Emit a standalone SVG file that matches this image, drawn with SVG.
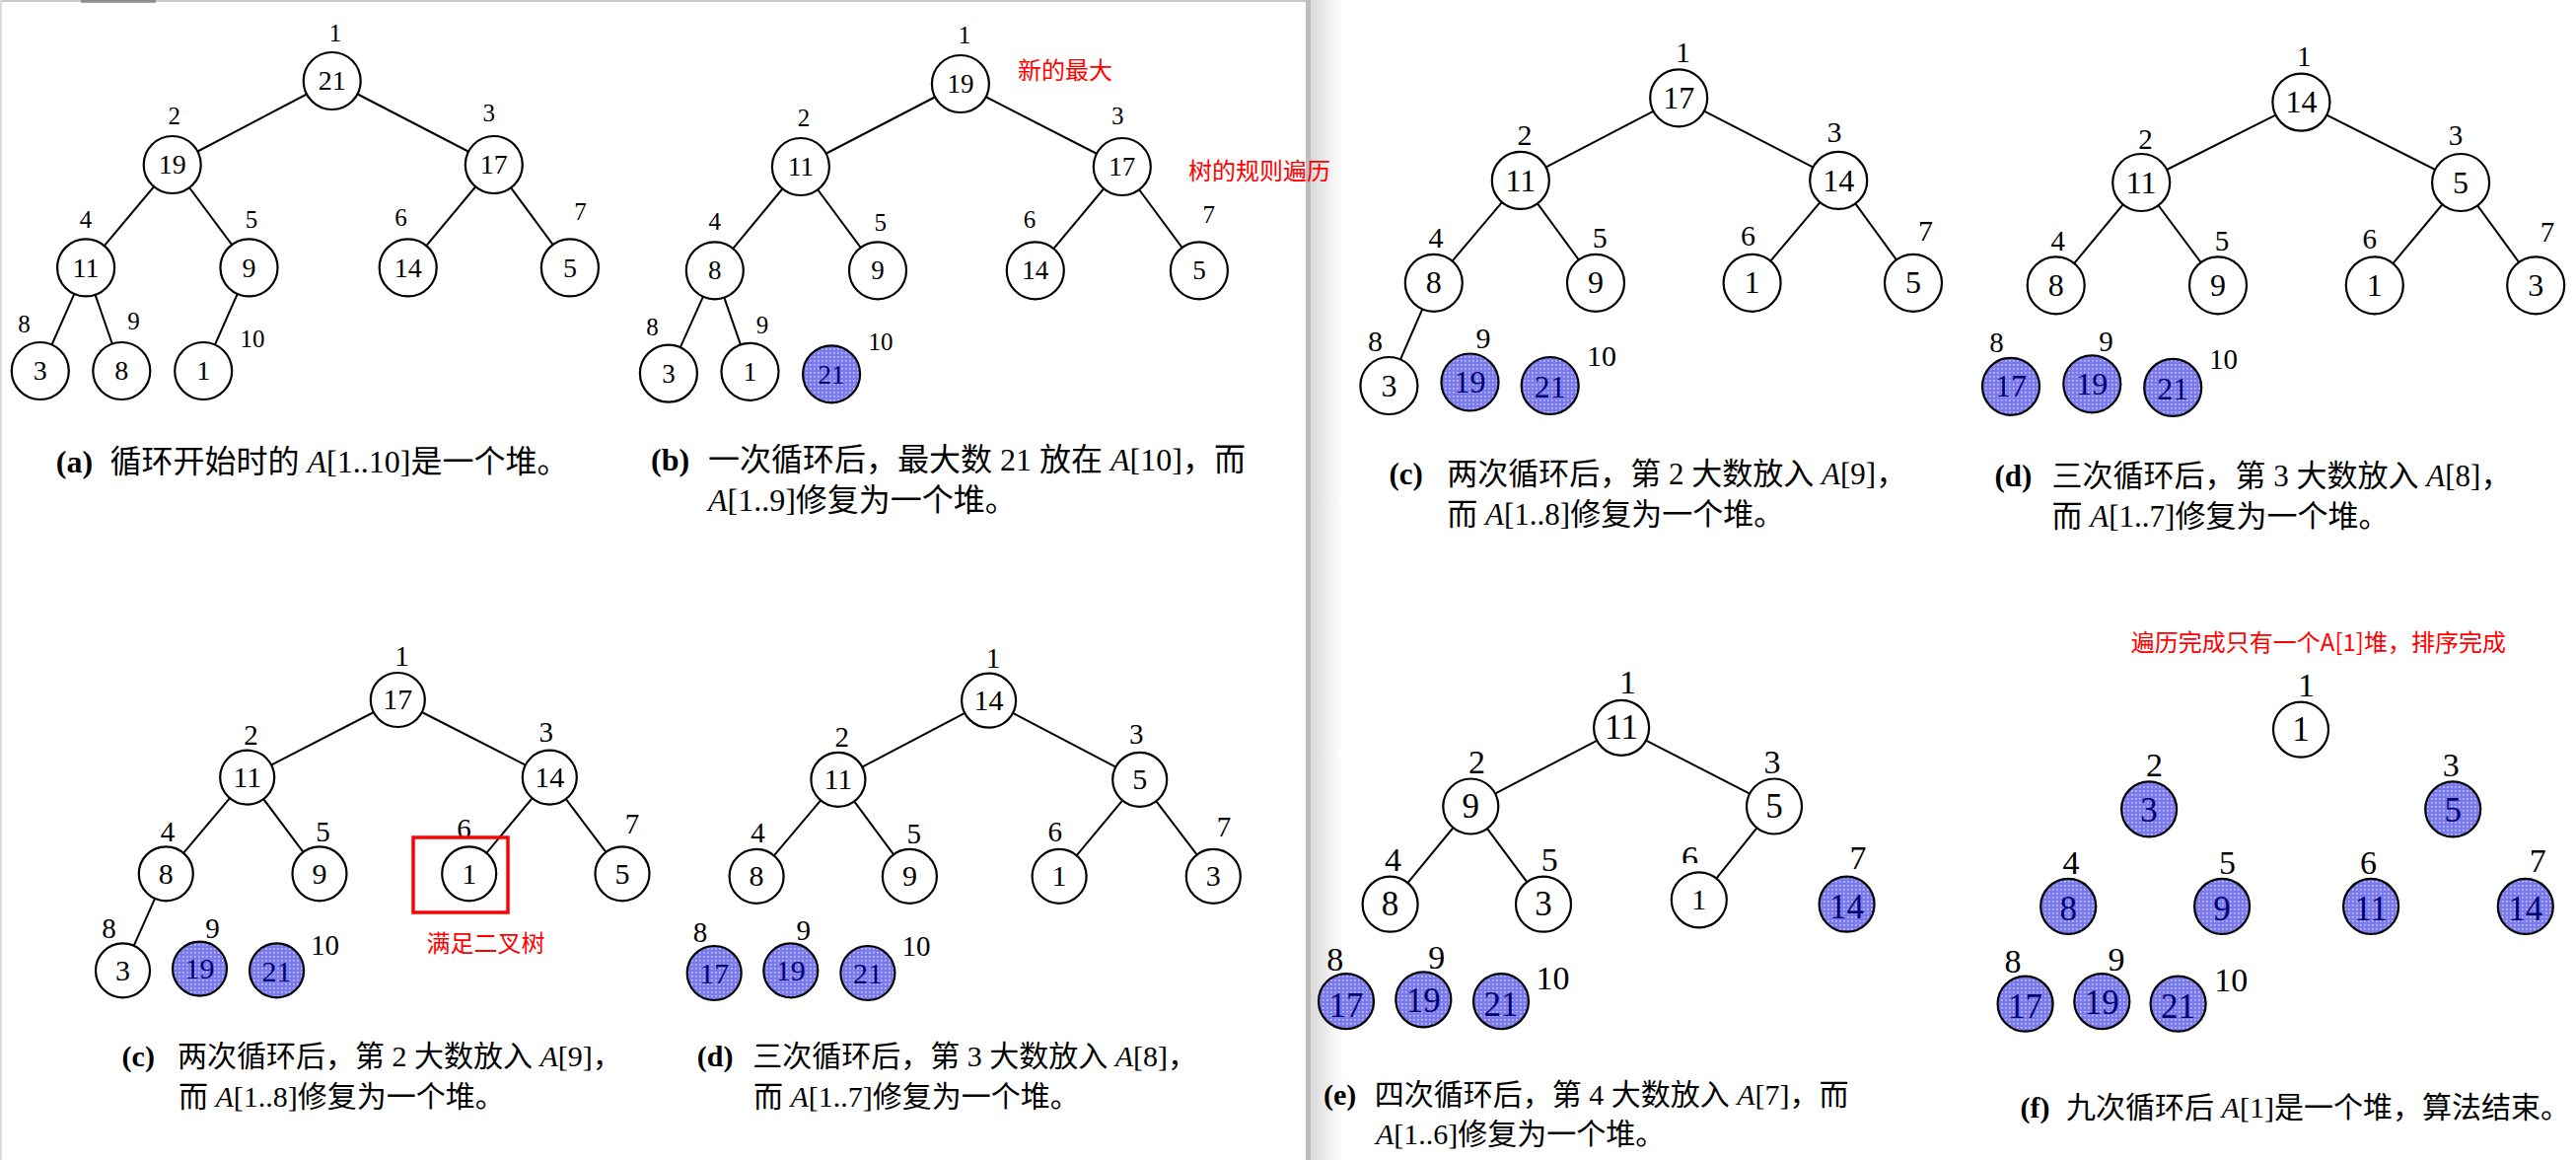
<svg xmlns="http://www.w3.org/2000/svg" width="2612" height="1176" viewBox="0 0 2612 1176">
<style>
.e{stroke:#000;stroke-width:2;fill:none}
.n{fill:#fff;stroke:#000;stroke-width:2.2}
.b{fill:url(#dots);stroke:#000;stroke-width:2.2}
.t{font-family:"Liberation Serif","Times New Roman",serif;text-anchor:middle;fill:#000}
.tb{fill:#000070}
.cap{font-family:"Liberation Serif","Noto Sans CJK SC",serif;fill:#000}
.red{font-family:"Noto Sans CJK SC",sans-serif;fill:#ff0000;font-size:24px}
.f28{font-size:28px}.f27{font-size:27px}.f25{font-size:25px}.f32{font-size:32px}.f30{font-size:30px}.f29{font-size:29px}.f35{font-size:35px}.f34{font-size:34px}
.c32{font-size:32px}.c31{font-size:31px}.c30{font-size:30px}
</style>
<defs>
<pattern id="dots" width="4" height="4" patternUnits="userSpaceOnUse"><rect width="4" height="4" fill="#7a7aee"/><rect x="1" y="1" width="1.6" height="1.6" fill="#c4c4ff"/></pattern>
<linearGradient id="shadow" x1="0" x2="1" y1="0" y2="0"><stop offset="0" stop-color="#d9d9d9"/><stop offset="1" stop-color="#ffffff"/></linearGradient>
</defs>
<rect width="2612" height="1176" fill="#fff"/>
<!-- screenshot edges -->
<line x1="0" y1="1" x2="1324" y2="1" stroke="#c8c8c8" stroke-width="2"/>
<line x1="1" y1="0" x2="1" y2="1176" stroke="#dcdcdc" stroke-width="2"/>
<rect x="82" y="0" width="76" height="3" fill="#666" opacity="0.6"/>
<rect x="1329" y="0" width="32" height="1176" fill="url(#shadow)"/>
<rect x="1324" y="0" width="5" height="1176" fill="#bdbdbd"/>

<g id="connectors">
<!-- a -->
<line class="e" x1="336.7" y1="82" x2="174.7" y2="167"/>
<line class="e" x1="336.7" y1="82" x2="500.8" y2="167"/>
<line class="e" x1="174.7" y1="167" x2="87.1" y2="271.4"/>
<line class="e" x1="174.7" y1="167" x2="252.5" y2="271.4"/>
<line class="e" x1="500.8" y1="167" x2="413.7" y2="271.4"/>
<line class="e" x1="500.8" y1="167" x2="577.9" y2="271.4"/>
<line class="e" x1="87.1" y1="271.4" x2="40.8" y2="376"/>
<line class="e" x1="87.1" y1="271.4" x2="123.3" y2="376"/>
<line class="e" x1="252.5" y1="271.4" x2="206.2" y2="376"/>
<!-- b -->
<line class="e" x1="973.9" y1="85" x2="811.9" y2="169"/>
<line class="e" x1="973.9" y1="85" x2="1137.8" y2="169"/>
<line class="e" x1="811.9" y1="169" x2="724.8" y2="274.3"/>
<line class="e" x1="811.9" y1="169" x2="890" y2="274.3"/>
<line class="e" x1="1137.8" y1="169" x2="1049.8" y2="274.3"/>
<line class="e" x1="1137.8" y1="169" x2="1215.9" y2="274.3"/>
<line class="e" x1="724.8" y1="274.3" x2="677.9" y2="378.6"/>
<line class="e" x1="724.8" y1="274.3" x2="760.5" y2="376.8"/>
<!-- c top -->
<line class="e" x1="1702.2" y1="99.3" x2="1541.8" y2="182.9"/>
<line class="e" x1="1702.2" y1="99.3" x2="1864.2" y2="182.9"/>
<line class="e" x1="1541.8" y1="182.9" x2="1453.8" y2="286.8"/>
<line class="e" x1="1541.8" y1="182.9" x2="1618" y2="286.8"/>
<line class="e" x1="1864.2" y1="182.9" x2="1776.6" y2="286.8"/>
<line class="e" x1="1864.2" y1="182.9" x2="1940" y2="286.8"/>
<line class="e" x1="1453.8" y1="286.8" x2="1408.4" y2="391"/>
<!-- d top -->
<line class="e" x1="2333.4" y1="103.6" x2="2171.2" y2="185"/>
<line class="e" x1="2333.4" y1="103.6" x2="2495.1" y2="185"/>
<line class="e" x1="2171.2" y1="185" x2="2084.7" y2="289.3"/>
<line class="e" x1="2171.2" y1="185" x2="2249" y2="289.3"/>
<line class="e" x1="2495.1" y1="185" x2="2407.8" y2="289.3"/>
<line class="e" x1="2495.1" y1="185" x2="2571.2" y2="289.3"/>
<!-- c bottom -->
<line class="e" x1="403.3" y1="709.5" x2="250.7" y2="788.1"/>
<line class="e" x1="403.3" y1="709.5" x2="557.3" y2="788.1"/>
<line class="e" x1="250.7" y1="788.1" x2="168.3" y2="885.8"/>
<line class="e" x1="250.7" y1="788.1" x2="324" y2="885.8"/>
<line class="e" x1="557.3" y1="788.1" x2="475.7" y2="885.8"/>
<line class="e" x1="557.3" y1="788.1" x2="631" y2="885.8"/>
<line class="e" x1="168.3" y1="885.8" x2="124.5" y2="983.9"/>
<!-- d bottom -->
<line class="e" x1="1002.6" y1="710.2" x2="849.9" y2="790.3"/>
<line class="e" x1="1002.6" y1="710.2" x2="1155.7" y2="790.3"/>
<line class="e" x1="849.9" y1="790.3" x2="767.1" y2="888.4"/>
<line class="e" x1="849.9" y1="790.3" x2="922.4" y2="888.4"/>
<line class="e" x1="1155.7" y1="790.3" x2="1074.1" y2="888.4"/>
<line class="e" x1="1155.7" y1="790.3" x2="1230.3" y2="888.4"/>
<!-- e -->
<line class="e" x1="1644.1" y1="737.8" x2="1491.3" y2="817.5"/>
<line class="e" x1="1644.1" y1="737.8" x2="1799" y2="817.5"/>
<line class="e" x1="1491.3" y1="817.5" x2="1409.6" y2="916.7"/>
<line class="e" x1="1491.3" y1="817.5" x2="1565" y2="916.7"/>
<line class="e" x1="1799" y1="817.5" x2="1722.8" y2="912.3"/>
</g>

<!-- ===== panel a ===== -->
<g id="a-n1"><circle class="n" cx="336.7" cy="82" r="29"/><text class="t f28" x="336.7" y="91.2">21</text><text class="t f25" x="340" y="42.3">1</text></g>
<g id="a-n2"><circle class="n" cx="174.7" cy="167" r="29"/><text class="t f28" x="174.7" y="176.2">19</text><text class="t f25" x="176.8" y="126.3">2</text></g>
<g id="a-n3"><circle class="n" cx="500.8" cy="167" r="29"/><text class="t f28" x="500.8" y="176.2">17</text><text class="t f25" x="495.8" y="123.3">3</text></g>
<g id="a-n4"><circle class="n" cx="87.1" cy="271.4" r="29"/><text class="t f28" x="87.1" y="280.6">11</text><text class="t f25" x="87" y="231.3">4</text></g>
<g id="a-n5"><circle class="n" cx="252.5" cy="271.4" r="29"/><text class="t f28" x="252.5" y="280.6">9</text><text class="t f25" x="255" y="231.3">5</text></g>
<g id="a-n6"><circle class="n" cx="413.7" cy="271.4" r="29"/><text class="t f28" x="413.7" y="280.6">14</text><text class="t f25" x="406.6" y="229">6</text></g>
<g id="a-n7"><circle class="n" cx="577.9" cy="271.4" r="29"/><text class="t f28" x="577.9" y="280.6">5</text><text class="t f25" x="588.4" y="223.3">7</text></g>
<g id="a-n8"><circle class="n" cx="40.8" cy="376" r="29"/><text class="t f28" x="40.8" y="385.2">3</text><text class="t f25" x="24.4" y="336.9">8</text></g>
<g id="a-n9"><circle class="n" cx="123.3" cy="376" r="29"/><text class="t f28" x="123.3" y="385.2">8</text><text class="t f25" x="135.5" y="334">9</text></g>
<g id="a-n10"><circle class="n" cx="206.2" cy="376" r="29"/><text class="t f28" x="206.2" y="385.2">1</text><text class="t f25" x="255.9" y="351.9">10</text></g>
<g id="a-caption"><text class="cap c32" x="56.8" y="479"><tspan font-weight="bold">(a)</tspan><tspan x="111.5">循环开始时的 </tspan><tspan font-style="italic">A</tspan>[1..10]是一个堆。</text></g>

<!-- ===== panel b ===== -->
<g id="b-n1"><circle class="n" cx="973.9" cy="85" r="29"/><text class="t f27" x="973.9" y="93.9">19</text><text class="t f25" x="977.9" y="44">1</text></g>
<g id="b-n2"><circle class="n" cx="811.9" cy="169" r="29"/><text class="t f27" x="811.9" y="177.9">11</text><text class="t f25" x="815" y="127.9">2</text></g>
<g id="b-n3"><circle class="n" cx="1137.8" cy="169" r="29"/><text class="t f27" x="1137.8" y="177.9">17</text><text class="t f25" x="1133.3" y="126.2">3</text></g>
<g id="b-n4"><circle class="n" cx="724.8" cy="274.3" r="29"/><text class="t f27" x="724.8" y="283.2">8</text><text class="t f25" x="724.8" y="233.3">4</text></g>
<g id="b-n5"><circle class="n" cx="890" cy="274.3" r="29"/><text class="t f27" x="890" y="283.2">9</text><text class="t f25" x="892.7" y="234">5</text></g>
<g id="b-n6"><circle class="n" cx="1049.8" cy="274.3" r="29"/><text class="t f27" x="1049.8" y="283.2">14</text><text class="t f25" x="1044" y="231.3">6</text></g>
<g id="b-n7"><circle class="n" cx="1215.9" cy="274.3" r="29"/><text class="t f27" x="1215.9" y="283.2">5</text><text class="t f25" x="1225.7" y="226.2">7</text></g>
<g id="b-n8"><circle class="n" cx="677.9" cy="378.6" r="29"/><text class="t f27" x="677.9" y="387.5">3</text><text class="t f25" x="661.4" y="339.7">8</text></g>
<g id="b-n9"><circle class="n" cx="760.5" cy="376.8" r="29"/><text class="t f27" x="760.5" y="385.7">1</text><text class="t f25" x="773" y="337.6">9</text></g>
<g id="b-n10"><circle class="b" cx="843.1" cy="379.3" r="29"/><text class="t tb f27" x="843.1" y="389">21</text><text class="t f25" x="893.1" y="354.7">10</text></g>
<g id="b-notes"><text class="red" x="1032" y="80.4">新的最大</text><text class="red" x="1205" y="182">树的规则遍历</text></g>
<g id="b-caption"><text class="cap c32" x="660" y="477"><tspan font-weight="bold">(b)</tspan><tspan x="718">一次循环后，最大数 21 放在 </tspan><tspan font-style="italic">A</tspan>[10]，而</text>
<text class="cap c32" x="718" y="518"><tspan font-style="italic">A</tspan>[1..9]修复为一个堆。</text></g>

<!-- ===== panel c top ===== -->
<g id="c-n1"><circle class="n" cx="1702.2" cy="99.3" r="29"/><text class="t f32" x="1702.2" y="109.9">17</text><text class="t f30" x="1706.4" y="62.8">1</text></g>
<g id="c-n2"><circle class="n" cx="1541.8" cy="182.9" r="29"/><text class="t f32" x="1541.8" y="193.5">11</text><text class="t f30" x="1546" y="147.4">2</text></g>
<g id="c-n3"><circle class="n" cx="1864.2" cy="182.9" r="29"/><text class="t f32" x="1864.2" y="193.5">14</text><text class="t f30" x="1860" y="143.9">3</text></g>
<g id="c-n4"><circle class="n" cx="1453.8" cy="286.8" r="29"/><text class="t f32" x="1453.8" y="297.4">8</text><text class="t f30" x="1456" y="250.9">4</text></g>
<g id="c-n5"><circle class="n" cx="1618" cy="286.8" r="29"/><text class="t f32" x="1618" y="297.4">9</text><text class="t f30" x="1622.2" y="250.9">5</text></g>
<g id="c-n6"><circle class="n" cx="1776.6" cy="286.8" r="29"/><text class="t f32" x="1776.6" y="297.4">1</text><text class="t f30" x="1772.4" y="249.2">6</text></g>
<g id="c-n7"><circle class="n" cx="1940" cy="286.8" r="29"/><text class="t f32" x="1940" y="297.4">5</text><text class="t f30" x="1952.6" y="243.9">7</text></g>
<g id="c-n8"><circle class="n" cx="1408.4" cy="391" r="29"/><text class="t f32" x="1408.4" y="401.6">3</text><text class="t f30" x="1394.5" y="356.3">8</text></g>
<g id="c-n9"><circle class="b" cx="1490.5" cy="387.5" r="29"/><text class="t tb f32" x="1490.5" y="398.1">19</text><text class="t f30" x="1503.9" y="352.8">9</text></g>
<g id="c-n10"><circle class="b" cx="1571.7" cy="391" r="29"/><text class="t tb f32" x="1571.7" y="402.6">21</text><text class="t f30" x="1623.9" y="371.3">10</text></g>
<g id="c-caption"><text class="cap c31" x="1408.4" y="491"><tspan font-weight="bold">(c)</tspan><tspan x="1467.3">两次循环后，第 2 大数放入 </tspan><tspan font-style="italic">A</tspan>[9]，</text>
<text class="cap c31" x="1467.3" y="532">而 <tspan font-style="italic">A</tspan>[1..8]修复为一个堆。</text></g>

<!-- ===== panel d top ===== -->
<g id="d-n1"><circle class="n" cx="2333.4" cy="103.6" r="29"/><text class="t f32" x="2333.4" y="114.2">14</text><text class="t f29" x="2336.3" y="66.7">1</text></g>
<g id="d-n2"><circle class="n" cx="2171.2" cy="185" r="29"/><text class="t f32" x="2171.2" y="195.6">11</text><text class="t f29" x="2175.4" y="150.6">2</text></g>
<g id="d-n3"><circle class="n" cx="2495.1" cy="185" r="29"/><text class="t f32" x="2495.1" y="195.6">5</text><text class="t f29" x="2490.1" y="147.1">3</text></g>
<g id="d-n4"><circle class="n" cx="2084.7" cy="289.3" r="29"/><text class="t f32" x="2084.7" y="299.9">8</text><text class="t f29" x="2086.8" y="254.2">4</text></g>
<g id="d-n5"><circle class="n" cx="2249" cy="289.3" r="29"/><text class="t f32" x="2249" y="299.9">9</text><text class="t f29" x="2253.1" y="254.2">5</text></g>
<g id="d-n6"><circle class="n" cx="2407.8" cy="289.3" r="29"/><text class="t f32" x="2407.8" y="299.9">1</text><text class="t f29" x="2402.8" y="251.7">6</text></g>
<g id="d-n7"><circle class="n" cx="2571.2" cy="289.3" r="29"/><text class="t f32" x="2571.2" y="299.9">3</text><text class="t f29" x="2582.9" y="245.3">7</text></g>
<g id="d-n8"><circle class="b" cx="2039" cy="391.8" r="29"/><text class="t tb f32" x="2039" y="402.4">17</text><text class="t f29" x="2024.4" y="356.6">8</text></g>
<g id="d-n9"><circle class="b" cx="2121.3" cy="389.3" r="29"/><text class="t tb f32" x="2121.3" y="399.9">19</text><text class="t f29" x="2135.5" y="356">9</text></g>
<g id="d-n10"><circle class="b" cx="2203.2" cy="392.9" r="29"/><text class="t tb f32" x="2203.2" y="404.5">21</text><text class="t f29" x="2254.4" y="373.9">10</text></g>
<g id="d-caption"><text class="cap c31" x="2022.4" y="493"><tspan font-weight="bold">(d)</tspan><tspan x="2080.6">三次循环后，第 3 大数放入 </tspan><tspan font-style="italic">A</tspan>[8]，</text>
<text class="cap c31" x="2080.6" y="534">而 <tspan font-style="italic">A</tspan>[1..7]修复为一个堆。</text></g>

<!-- ===== panel c bottom ===== -->
<g id="cb-n1"><circle class="n" cx="403.3" cy="709.5" r="27.5"/><text class="t f30" x="403.3" y="719.4">17</text><text class="t f29" x="407.6" y="675">1</text></g>
<g id="cb-n2"><circle class="n" cx="250.7" cy="788.1" r="27.5"/><text class="t f30" x="250.7" y="798">11</text><text class="t f29" x="254.6" y="754.7">2</text></g>
<g id="cb-n3"><circle class="n" cx="557.3" cy="788.1" r="27.5"/><text class="t f30" x="557.3" y="798">14</text><text class="t f29" x="553.8" y="752.1">3</text></g>
<g id="cb-n4"><circle class="n" cx="168.3" cy="885.8" r="27.5"/><text class="t f30" x="168.3" y="895.7">8</text><text class="t f29" x="170" y="852.8">4</text></g>
<g id="cb-n5"><circle class="n" cx="324" cy="885.8" r="27.5"/><text class="t f30" x="324" y="895.7">9</text><text class="t f29" x="327.4" y="852.8">5</text></g>
<g id="cb-n6"><circle class="n" cx="475.7" cy="885.8" r="27.5"/><text class="t f30" x="475.7" y="895.7">1</text><text class="t f29" x="470.5" y="850.2">6</text></g>
<g id="cb-n7"><circle class="n" cx="631" cy="885.8" r="27.5"/><text class="t f30" x="631" y="895.7">5</text><text class="t f29" x="641" y="844.7">7</text></g>
<g id="cb-n8"><circle class="n" cx="124.5" cy="983.9" r="27.5"/><text class="t f30" x="124.5" y="993.8">3</text><text class="t f29" x="110.6" y="951.3">8</text></g>
<g id="cb-n9"><circle class="b" cx="202.5" cy="982.1" r="27.5"/><text class="t tb f30" x="202.5" y="992">19</text><text class="t f29" x="215.5" y="950.5">9</text></g>
<g id="cb-n10"><circle class="b" cx="280.6" cy="983.9" r="27.5"/><text class="t tb f30" x="280.6" y="994.8">21</text><text class="t f29" x="329.6" y="967.8">10</text></g>
<g id="cb-note"><rect x="419" y="849" width="96" height="76" fill="none" stroke="#ff0000" stroke-width="3.5"/><text class="red" x="432.4" y="964.6">满足二叉树</text></g>
<g id="cb-caption"><text class="cap c30" x="123.6" y="1081"><tspan font-weight="bold">(c)</tspan><tspan x="180">两次循环后，第 2 大数放入 </tspan><tspan font-style="italic">A</tspan>[9]，</text>
<text class="cap c30" x="181" y="1122">而 <tspan font-style="italic">A</tspan>[1..8]修复为一个堆。</text></g>

<!-- ===== panel d bottom ===== -->
<g id="db-n1"><circle class="n" cx="1002.6" cy="710.2" r="27.5"/><text class="t f30" x="1002.6" y="720.1">14</text><text class="t f29" x="1006.9" y="676.8">1</text></g>
<g id="db-n2"><circle class="n" cx="849.9" cy="790.3" r="27.5"/><text class="t f30" x="849.9" y="800.2">11</text><text class="t f29" x="853.8" y="756.6">2</text></g>
<g id="db-n3"><circle class="n" cx="1155.7" cy="790.3" r="27.5"/><text class="t f30" x="1155.7" y="800.2">5</text><text class="t f29" x="1152.2" y="753.6">3</text></g>
<g id="db-n4"><circle class="n" cx="767.1" cy="888.4" r="27.5"/><text class="t f30" x="767.1" y="898.3">8</text><text class="t f29" x="768.4" y="853.9">4</text></g>
<g id="db-n5"><circle class="n" cx="922.4" cy="888.4" r="27.5"/><text class="t f30" x="922.4" y="898.3">9</text><text class="t f29" x="926.7" y="855">5</text></g>
<g id="db-n6"><circle class="n" cx="1074.1" cy="888.4" r="27.5"/><text class="t f30" x="1074.1" y="898.3">1</text><text class="t f29" x="1069.8" y="852.8">6</text></g>
<g id="db-n7"><circle class="n" cx="1230.3" cy="888.4" r="27.5"/><text class="t f30" x="1230.3" y="898.3">3</text><text class="t f29" x="1241.1" y="847.7">7</text></g>
<g id="db-n8"><circle class="b" cx="724.2" cy="986.5" r="27.5"/><text class="t tb f30" x="724.2" y="997.4">17</text><text class="t f29" x="709.9" y="954.9">8</text></g>
<g id="db-n9"><circle class="b" cx="801.8" cy="983.9" r="27.5"/><text class="t tb f30" x="801.8" y="993.8">19</text><text class="t f29" x="814.8" y="953.1">9</text></g>
<g id="db-n10"><circle class="b" cx="879.9" cy="986.5" r="27.5"/><text class="t tb f30" x="879.9" y="997.4">21</text><text class="t f29" x="928.9" y="968.9">10</text></g>
<g id="db-caption"><text class="cap c30" x="706.8" y="1081"><tspan font-weight="bold">(d)</tspan><tspan x="763.2">三次循环后，第 3 大数放入 </tspan><tspan font-style="italic">A</tspan>[8]，</text>
<text class="cap c30" x="764" y="1122">而 <tspan font-style="italic">A</tspan>[1..7]修复为一个堆。</text></g>

<!-- ===== panel e ===== -->
<g id="e-n1"><circle class="n" cx="1644.1" cy="737.8" r="28"/><text class="t f35" x="1644.1" y="749.4">11</text><text class="t f34" x="1650.4" y="703">1</text></g>
<g id="e-n2"><circle class="n" cx="1491.3" cy="817.5" r="28"/><text class="t f35" x="1491.3" y="829.1">9</text><text class="t f34" x="1497.6" y="783.9">2</text></g>
<g id="e-n3"><circle class="n" cx="1799" cy="817.5" r="28"/><text class="t f35" x="1799" y="829.1">5</text><text class="t f34" x="1796.9" y="783.9">3</text></g>
<g id="e-n4"><circle class="n" cx="1409.6" cy="916.7" r="28"/><text class="t f35" x="1409.6" y="928.3">8</text><text class="t f34" x="1412.6" y="883.1">4</text></g>
<g id="e-n5"><circle class="n" cx="1565" cy="916.7" r="28"/><text class="t f35" x="1565" y="928.3">3</text><text class="t f34" x="1571.3" y="883.1">5</text></g>
<g id="e-n6"><text class="t f34" x="1713.5" y="881.2">6</text><rect x="1698" y="875" width="32" height="12" fill="#fff"/><circle class="n" cx="1722.8" cy="912.3" r="28"/><text class="t f30" x="1722.8" y="922.2" fill="#1a1a50">1</text></g>
<g id="e-n7"><circle class="b" cx="1872.6" cy="916.7" r="28"/><text class="t tb f35" x="1872.6" y="931.3">14</text><text class="t f34" x="1884" y="881.2">7</text></g>
<g id="e-n8"><circle class="b" cx="1365" cy="1015.1" r="28"/><text class="t tb f35" x="1365" y="1030.7">17</text><text class="t f34" x="1353.7" y="984.1">8</text></g>
<g id="e-n9"><circle class="b" cx="1443.3" cy="1013.3" r="28"/><text class="t tb f35" x="1443.3" y="1025.9">19</text><text class="t f34" x="1456.8" y="982.2">9</text></g>
<g id="e-n10"><circle class="b" cx="1522" cy="1015.1" r="28"/><text class="t tb f35" x="1522" y="1029.7">21</text><text class="t f34" x="1574.6" y="1002.5">10</text></g>
<g id="e-caption"><text class="cap c30" x="1341.9" y="1120"><tspan font-weight="bold">(e)</tspan><tspan x="1393.7">四次循环后，第 4 大数放入 </tspan><tspan font-style="italic">A</tspan>[7]，而</text>
<text class="cap c30" x="1394.9" y="1160"><tspan font-style="italic">A</tspan>[1..6]修复为一个堆。</text></g>

<!-- ===== panel f ===== -->
<g id="f-note"><text class="red" x="2160.8" y="660.4">遍历完成只有一个A[1]堆，排序完成</text></g>
<g id="f-n1"><circle class="n" cx="2333" cy="739.6" r="28"/><text class="t f35" x="2333" y="751.2">1</text><text class="t f34" x="2338.4" y="706">1</text></g>
<g id="f-n2"><circle class="b" cx="2179.1" cy="820.4" r="28"/><text class="t tb f35" x="2179.1" y="833">3</text><text class="t f34" x="2184.5" y="786.8">2</text></g>
<g id="f-n3"><circle class="b" cx="2487.2" cy="820.4" r="28"/><text class="t tb f35" x="2487.2" y="833">5</text><text class="t f34" x="2485.2" y="786.8">3</text></g>
<g id="f-n4"><circle class="b" cx="2097.2" cy="918.9" r="28"/><text class="t tb f35" x="2097.2" y="932.5">8</text><text class="t f34" x="2100.1" y="886">4</text></g>
<g id="f-n5"><circle class="b" cx="2253.1" cy="918.9" r="28"/><text class="t tb f35" x="2253.1" y="932.5">9</text><text class="t f34" x="2258.5" y="886">5</text></g>
<g id="f-n6"><circle class="b" cx="2404.1" cy="918.9" r="28"/><text class="t tb f35" x="2404.1" y="932.5">11</text><text class="t f34" x="2401.6" y="886">6</text></g>
<g id="f-n7"><circle class="b" cx="2560.8" cy="918.9" r="28"/><text class="t tb f35" x="2560.8" y="932.5">14</text><text class="t f34" x="2573.3" y="883.8">7</text></g>
<g id="f-n8"><circle class="b" cx="2053.6" cy="1017.7" r="28"/><text class="t tb f35" x="2053.6" y="1031.8">17</text><text class="t f34" x="2041.1" y="985.9">8</text></g>
<g id="f-n9"><circle class="b" cx="2131.3" cy="1015.1" r="28"/><text class="t tb f35" x="2131.3" y="1027.7">19</text><text class="t f34" x="2145.9" y="984.1">9</text></g>
<g id="f-n10"><circle class="b" cx="2208.6" cy="1017.7" r="28"/><text class="t tb f35" x="2208.6" y="1031.8">21</text><text class="t f34" x="2262.3" y="1005">10</text></g>
<g id="f-caption"><text class="cap c30" x="2048.6" y="1133"><tspan font-weight="bold">(f)</tspan><tspan x="2095.1">九次循环后 </tspan><tspan font-style="italic">A</tspan>[1]是一个堆，算法结束。</text></g>
</svg>
